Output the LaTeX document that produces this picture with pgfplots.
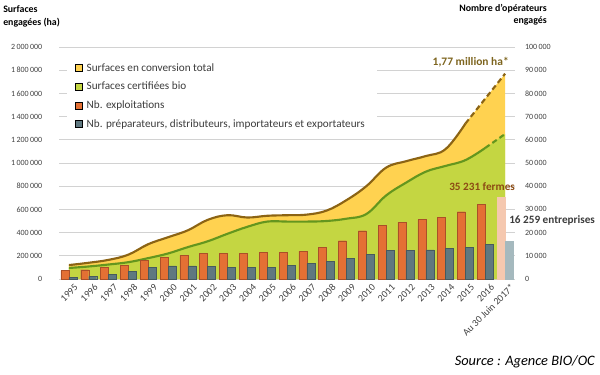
\documentclass[border=0pt]{standalone}
\usepackage{fontspec}
\setmainfont{Carlito}
\usepackage{pgfplots}
\pgfplotsset{compat=1.18}
\usepgfplotslibrary{fillbetween}
\definecolor{cyel}{RGB}{255,210,80}
\definecolor{cgrn}{RGB}{196,214,66}
\definecolor{cbrown}{RGB}{140,100,20}
\definecolor{cgline}{RGB}{100,150,30}
\definecolor{corange}{RGB}{228,112,52}
\definecolor{corangeD}{RGB}{170,80,40}
\definecolor{cgrey}{RGB}{95,120,128}
\definecolor{cgreyD}{RGB}{70,90,95}
\definecolor{cpaleO}{RGB}{245,200,175}
\definecolor{cpaleG}{RGB}{165,185,190}
\definecolor{cgrid}{RGB}{210,210,210}
\definecolor{ctxt}{RGB}{64,64,64}
\definecolor{cann1}{RGB}{125,100,30}
\definecolor{cann2}{RGB}{140,75,20}
\definecolor{cann3}{RGB}{60,60,60}
\begin{document}
\begin{tikzpicture}
\pgfplotsset{
  base/.style={
    width=342pt, height=174pt, scale only axis,
    xmin=-0.5, xmax=22.5, ymin=0,
    axis line style={draw=none}, tick style={draw=none},
    /pgf/number format/assume math mode=true,
    scaled y ticks=false,
    tick label style={font=\fontsize{6}{7}\selectfont, text=ctxt},
  }
}
\begin{axis}[base,
  ymax=2000000,
  ymajorgrids, major grid style={draw=cgrid, line width=0.6pt},
  ytick={0,200000,...,2000000},
  yticklabels={0,200\,000,400\,000,600\,000,800\,000,1\,000\,000,1\,200\,000,1\,400\,000,1\,600\,000,1\,800\,000,2\,000\,000},
  yticklabel style={anchor=east, xshift=-9pt},
  xtick={0,...,22},
  xticklabels={1995,1996,1997,1998,1999,2000,2001,2002,2003,2004,2005,2006,2007,2008,2009,2010,2011,2012,2013,2014,2015,2016,Au 30 Juin 2017*},
  xticklabel style={rotate=45, anchor=east, inner sep=0pt, font=\fontsize{7.4}{8}\selectfont, xshift=0.5pt, yshift=-7.5pt},
]
\addplot[draw=none, name path=tot, smooth, tension=0.65] coordinates {
(0,120000)(1,140000)(2,165000)(3,210000)(4,300000)(5,360000)(6,420000)(7,510000)(8,550000)(9,530000)(10,545000)(11,550000)(12,555000)(13,590000)(14,680000)(15,800000)(16,960000)(17,1015000)(18,1060000)(19,1120000)(20,1340000)(21,1555000)(22,1770000)};
\addplot[draw=none, name path=cert, smooth, tension=0.65] coordinates {
(0,95000)(1,108000)(2,125000)(3,145000)(4,180000)(5,220000)(6,275000)(7,325000)(8,390000)(9,450000)(10,495000)(11,495000)(12,495000)(13,500000)(14,520000)(15,560000)(16,720000)(17,830000)(18,925000)(19,975000)(20,1025000)(21,1130000)(22,1250000)};
\addplot[draw=none, name path=base] coordinates {(0,0)(22,0)};
\addplot[fill=cyel, draw=none] fill between[of=tot and base];
\addplot[fill=cgrn, draw=none] fill between[of=cert and base];
\addplot[cbrown, line width=1.6pt, smooth, tension=0.65] coordinates {
(0,120000)(1,140000)(2,165000)(3,210000)(4,300000)(5,360000)(6,420000)(7,510000)(8,550000)(9,530000)(10,545000)(11,550000)(12,555000)(13,590000)(14,680000)(15,800000)(16,960000)(17,1015000)(18,1060000)(19,1120000)(20,1340000)};
\addplot[cbrown, line width=1.6pt, dash pattern=on 4pt off 2.5pt] coordinates {(20,1340000)(21,1555000)(22,1770000)};
\addplot[cgline, line width=1.6pt, smooth, tension=0.65] coordinates {
(0,95000)(1,108000)(2,125000)(3,145000)(4,180000)(5,220000)(6,275000)(7,325000)(8,390000)(9,450000)(10,495000)(11,495000)(12,495000)(13,500000)(14,520000)(15,560000)(16,720000)(17,830000)(18,925000)(19,975000)(20,1025000)(21,1130000)};
\addplot[cgline, line width=1.6pt, dash pattern=on 4pt off 2.5pt] coordinates {(21,1130000)(22,1250000)};
\end{axis}
\begin{axis}[base,
  ymax=100000,
  axis x line=none,
  ytick={0,10000,...,100000},
  yticklabels={0,10\,000,20\,000,30\,000,40\,000,50\,000,60\,000,70\,000,80\,000,90\,000,100\,000},
  yticklabel pos=right,
  yticklabel style={anchor=west, xshift=4pt},
  legend style={at={(0.0175,0.955)}, anchor=north west, fill=white, draw=none,
    font=\fontsize{8.4}{10}\selectfont, text=cann3,
    inner xsep=6pt, inner ysep=4pt, row sep=6.5pt,
    nodes={inner xsep=3pt, inner ysep=0pt, text height=6pt, text depth=1.5pt}},
  legend cell align=left,
  legend image code/.code={\fill[#1] (0pt,-2.6pt) rectangle (5.2pt,2.6pt);},
]
\addlegendimage{fill=cyel}
\addlegendimage{fill=cgrn}
\addlegendimage{fill=corange}
\addlegendimage{fill=cgrey}
\addplot[ybar, bar width=6pt, bar shift=-3pt, fill=corange, draw=corangeD, line width=0.3pt, forget plot] coordinates {
(0,3600)(1,4000)(2,5000)(3,5900)(4,7900)(5,9300)(6,10200)(7,11200)(8,11200)(9,11100)(10,11400)(11,11600)(12,11900)(13,13500)(14,16500)(15,20800)(16,23100)(17,24400)(18,25600)(19,26600)(20,29000)(21,32300)};
\addplot[ybar, bar width=6pt, bar shift=3pt, fill=cgrey, draw=cgreyD, line width=0.3pt, forget plot] coordinates {
(0,600)(1,1000)(2,1900)(3,3300)(4,5000)(5,5700)(6,5700)(7,5500)(8,4900)(9,4900)(10,5000)(11,5900)(12,6600)(13,7500)(14,8800)(15,10500)(16,12200)(17,12400)(18,12600)(19,13100)(20,13600)(21,14800)};
\addplot[ybar, bar width=6pt, bar shift=-3pt, fill=cpaleO, draw=cpaleO, forget plot] coordinates {(22,35231)};
\addplot[ybar, bar width=6pt, bar shift=3pt, fill=cpaleG, draw=cpaleG, forget plot] coordinates {(22,16259)};
\legend{Surfaces en conversion total, Surfaces certifiées bio, Nb. exploitations, {Nb. préparateurs, distributeurs, importateurs et exportateurs}}
\end{axis}
\node[anchor=east, inner sep=0pt, font=\bfseries\fontsize{8.6}{10}\selectfont, text=cann1] at (337.5pt,162.75pt) {1,77 million ha*};
\node[anchor=west, inner sep=0pt, font=\bfseries\fontsize{8.4}{10}\selectfont, text=cann2] at (292.5pt,69pt) {35 231 fermes};
\node[anchor=west, inner sep=0pt, font=\bfseries\fontsize{8.4}{10}\selectfont, text=cann3] at (337.5pt,44.25pt) {16 259 entreprises};
\node[anchor=base west, inner sep=0pt, font=\bfseries\fontsize{7.4}{9}\selectfont, text=black] at (-42pt,199.5pt) {Surfaces};
\node[anchor=base west, inner sep=0pt, font=\bfseries\fontsize{7.4}{9}\selectfont, text=black] at (-42pt,189.75pt) {engagées (ha)};
\node[anchor=base east, inner sep=0pt, font=\bfseries\fontsize{7.4}{9}\selectfont, text=black] at (366pt,200.25pt) {Nombre d'opérateurs};
\node[anchor=base east, inner sep=0pt, font=\bfseries\fontsize{7.4}{9}\selectfont, text=black] at (366pt,191.25pt) {engagés};
\node[anchor=east, inner sep=0pt, font=\itshape\fontsize{10.8}{12}\selectfont, text=black] at (402pt,-62.25pt) {Source : Agence BIO/OC};
\path[use as bounding box] (-44.25pt,-72pt) rectangle (405.75pt,209.25pt);
\end{tikzpicture}
\end{document}
